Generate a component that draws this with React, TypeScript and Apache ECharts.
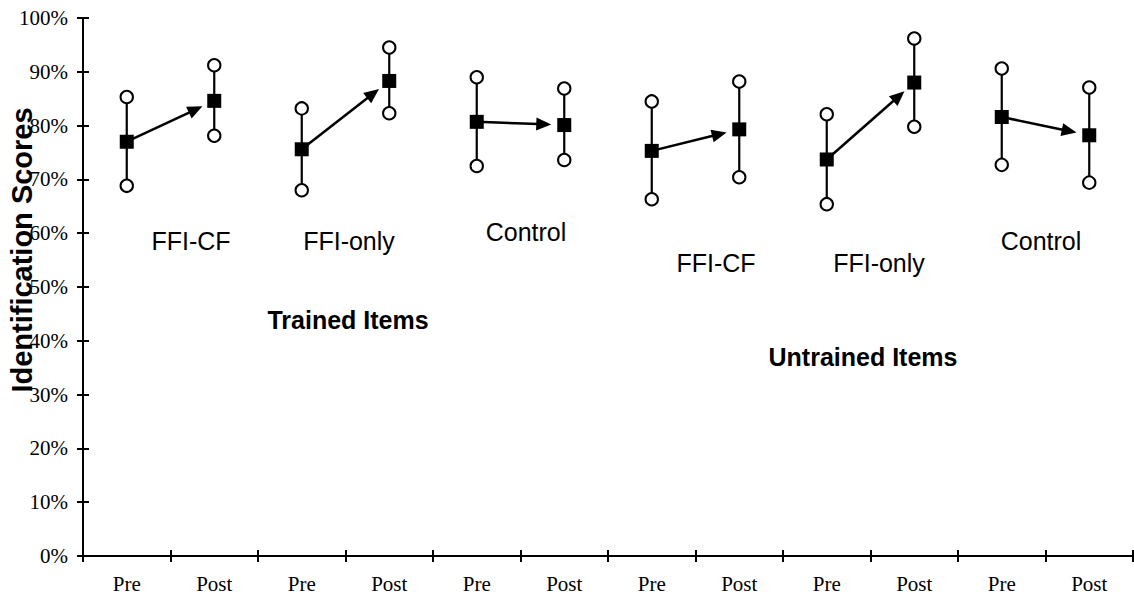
import React, { useEffect, useRef } from "react";
import * as echarts from "echarts";

const categories = ["Pre", "Post", "Pre", "Post", "Pre", "Post", "Pre", "Post", "Pre", "Post", "Pre", "Post"];
const groupNames = ["FFI-CF", "FFI-only", "Control", "FFI-CF", "FFI-only", "Control"];
const preMean = [77.0, 75.6, 80.7, 75.3, 73.7, 81.6];
const postMean = [84.6, 88.3, 80.1, 79.3, 88.0, 78.2];
const preUpper = [85.3, 83.2, 89.0, 84.5, 82.1, 90.6];
const preLower = [68.8, 68.0, 72.5, 66.3, 65.4, 72.7];
const postUpper = [91.2, 94.5, 86.9, 88.2, 96.2, 87.1];
const postLower = [78.1, 82.3, 73.6, 70.4, 79.8, 69.4];
const yTicks = { min: 0, max: 100, interval: 10 };
const sectionTitles = ["Trained Items", "Untrained Items"];
const yTitle = "Identification Scores";

const SANS = "'Liberation Sans', Arial, sans-serif";
const SERIF = "'Liberation Serif', 'Times New Roman', serif";

export default function App() {
  const ref = useRef<HTMLDivElement>(null);
  useEffect(() => {
    if (!ref.current) return;
    const chart = echarts.init(ref.current, undefined, { renderer: "svg" });

    const errData: number[][] = [];
    const meanData: number[][] = [];
    const arrowData: number[][] = [];
    for (let g = 0; g < 6; g++) {
      const a = g * 2, b = g * 2 + 1;
      errData.push([a, preLower[g], preUpper[g]]);
      errData.push([b, postLower[g], postUpper[g]]);
      meanData.push([a, preMean[g]]);
      meanData.push([b, postMean[g]]);
      arrowData.push([a, preMean[g], b, postMean[g]]);
    }

    const labelPos = [
      [191, 241], [349, 241], [526, 232], [716, 263], [879, 263], [1041, 241],
    ];
    const graphics: any[] = groupNames.map((n, i) => ({
      type: "text",
      x: labelPos[i][0],
      y: labelPos[i][1],
      style: { text: n, font: `25px ${SANS}`, fill: "#000", textAlign: "center", textVerticalAlign: "middle" },
    }));
    graphics.push({
      type: "text", x: 348, y: 320,
      style: { text: sectionTitles[0], font: `bold 25px ${SANS}`, fill: "#000", textAlign: "center", textVerticalAlign: "middle" },
    });
    graphics.push({
      type: "text", x: 863, y: 357,
      style: { text: sectionTitles[1], font: `bold 25px ${SANS}`, fill: "#000", textAlign: "center", textVerticalAlign: "middle" },
    });
    graphics.push({
      type: "text", x: 22, y: 250, rotation: Math.PI / 2, z: 100,
      style: { text: yTitle, font: `bold 29px ${SANS}`, fill: "#000", textAlign: "center", textVerticalAlign: "middle" },
    });

    const axisLine = { show: true, lineStyle: { color: "#000", width: 2 } };

    chart.setOption({
      animation: false,
      backgroundColor: "#fff",
      grid: { left: 83, right: 1, top: 18, bottom: 49, containLabel: false, outerBoundsMode: "none" },
      xAxis: [
        {
          type: "category",
          data: categories,
          boundaryGap: true,
          axisLine,
          axisTick: { show: true, inside: false, length: 6, lineStyle: { color: "#000", width: 2 } },
          axisLabel: { color: "#000", fontFamily: SERIF, fontSize: 21, margin: 17, interval: 0 },
          splitLine: { show: false },
        },
        {
          type: "category",
          data: categories,
          position: "bottom",
          boundaryGap: true,
          axisLine: { show: false },
          axisTick: { show: true, inside: true, length: 6, lineStyle: { color: "#000", width: 2 } },
          axisLabel: { show: false },
          splitLine: { show: false },
        },
      ],
      yAxis: [
        {
          type: "value",
          min: yTicks.min,
          max: yTicks.max,
          interval: yTicks.interval,
          axisLine,
          axisTick: { show: true, inside: false, length: 6, lineStyle: { color: "#000", width: 2 } },
          axisLabel: { color: "#000", fontFamily: SERIF, fontSize: 21, margin: 15, formatter: "{value}%" },
          splitLine: { show: false },
        },
        {
          type: "value",
          position: "left",
          min: yTicks.min,
          max: yTicks.max,
          interval: yTicks.interval,
          axisLine: { show: false },
          axisTick: { show: true, inside: true, length: 6, lineStyle: { color: "#000", width: 2 } },
          axisLabel: { show: false },
          splitLine: { show: false },
        },
      ],
      series: [
        {
          type: "custom",
          name: "change",
          data: arrowData,
          encode: { x: [0, 2], y: [1, 3] },
          z: 2,
          renderItem: (_p: any, api: any) => {
            const p0 = api.coord([api.value(0), api.value(1)]);
            const p1 = api.coord([api.value(2), api.value(3)]);
            const dx = p1[0] - p0[0], dy = p1[1] - p0[1];
            const len = Math.hypot(dx, dy);
            const ux = dx / len, uy = dy / len;
            const gap = 13;
            const headLen = 15, headW = 6.5;
            const tip = [p1[0] - ux * gap, p1[1] - uy * gap];
            const base = [tip[0] - ux * headLen, tip[1] - uy * headLen];
            const l = [base[0] - uy * headW, base[1] + ux * headW];
            const r = [base[0] + uy * headW, base[1] - ux * headW];
            return {
              type: "group",
              children: [
                { type: "line", shape: { x1: p0[0], y1: p0[1], x2: base[0] + ux * 2, y2: base[1] + uy * 2 }, style: { stroke: "#000", lineWidth: 2.5 } },
                { type: "polygon", shape: { points: [tip, l, r] }, style: { fill: "#000" } },
              ],
            };
          },
        },
        {
          type: "custom",
          name: "range",
          data: errData,
          encode: { x: 0, y: [1, 2] },
          z: 3,
          renderItem: (_p: any, api: any) => {
            const x = api.value(0);
            const lo = api.coord([x, api.value(1)]);
            const hi = api.coord([x, api.value(2)]);
            return {
              type: "group",
              children: [
                { type: "line", shape: { x1: lo[0], y1: lo[1], x2: hi[0], y2: hi[1] }, style: { stroke: "#000", lineWidth: 2.2 } },
                { type: "circle", shape: { cx: lo[0], cy: lo[1], r: 6.2 }, style: { fill: "#fff", stroke: "#000", lineWidth: 2 } },
                { type: "circle", shape: { cx: hi[0], cy: hi[1], r: 6.2 }, style: { fill: "#fff", stroke: "#000", lineWidth: 2 } },
              ],
            };
          },
        },
        {
          type: "scatter",
          name: "mean",
          data: meanData,
          symbol: "rect",
          symbolSize: 14,
          itemStyle: { color: "#000", opacity: 1 },
          z: 4,
        },
      ],
      graphic: graphics,
    });
    return () => chart.dispose();
  }, []);
  return <div ref={ref} style={{ position: "absolute", left: 0, top: 0, width: 1134, height: 605 }} />;
}
